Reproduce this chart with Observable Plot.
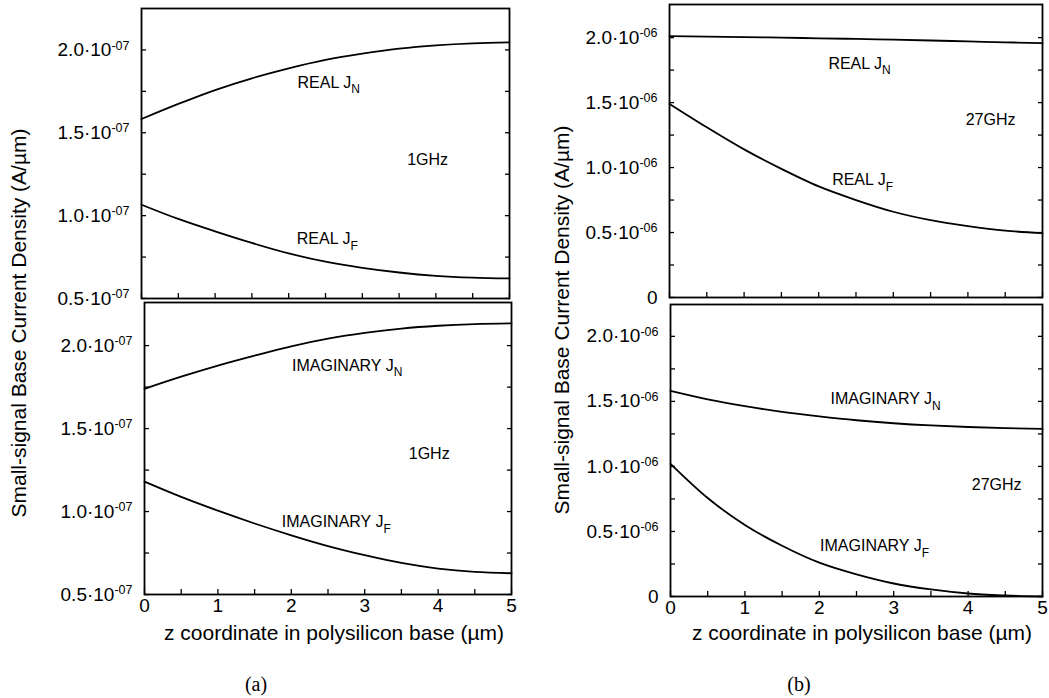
<!DOCTYPE html>
<html>
<head>
<meta charset="utf-8">
<script src="https://cdn.jsdelivr.net/npm/d3@7"></script>
<script src="https://cdn.jsdelivr.net/npm/@observablehq/plot@0.6"></script>
<style>
  body { margin: 0; background: #fff; }
  #fig { position: relative; width: 1049px; height: 698px; overflow: hidden;
         font-family: "Liberation Sans", Arial, Helvetica, sans-serif; color: #000; }
  .panel { position: absolute; }
  .ytitle { position: absolute; font-size: 21px; line-height: 21px; white-space: nowrap;
            transform: translate(-50%, -50%) rotate(-90deg); }
  .xtitle { position: absolute; font-size: 21px; line-height: 21px; white-space: nowrap;
            transform: translateX(-50%); }
  .cap { position: absolute; font-family: "Liberation Serif", "Times New Roman", serif;
         font-size: 20px; line-height: 20px; transform: translateX(-50%); }
</style>
</head>
<body>
<div id="fig"></div>
<script>
// z coordinate in the polysilicon base (µm)
const z = [0, 0.5, 1, 1.5, 2, 2.5, 3, 3.5, 4, 4.5, 5];

// 1 GHz small-signal base current density (A/µm)
const realJN_1GHz = [1.583e-7, 1.674e-7, 1.758e-7, 1.829e-7, 1.889e-7, 1.94e-7, 1.978e-7, 2.008e-7, 2.028e-7, 2.04e-7, 2.045e-7];
const realJF_1GHz = [1.066e-7, 0.98e-7, 0.905e-7, 0.835e-7, 0.772e-7, 0.722e-7, 0.685e-7, 0.657e-7, 0.637e-7, 0.626e-7, 0.621e-7];
const imagJN_1GHz = [1.74e-7, 1.813e-7, 1.88e-7, 1.94e-7, 1.996e-7, 2.042e-7, 2.077e-7, 2.103e-7, 2.12e-7, 2.13e-7, 2.134e-7];
const imagJF_1GHz = [1.18e-7, 1.088e-7, 1.005e-7, 0.928e-7, 0.857e-7, 0.792e-7, 0.737e-7, 0.69e-7, 0.656e-7, 0.636e-7, 0.628e-7];

// 27 GHz small-signal base current density (A/µm)
const realJN_27GHz = [2.012e-6, 2.008e-6, 2.004e-6, 2.0e-6, 1.995e-6, 1.99e-6, 1.984e-6, 1.978e-6, 1.971e-6, 1.964e-6, 1.958e-6];
const realJF_27GHz = [1.49e-6, 1.31e-6, 1.14e-6, 0.99e-6, 0.855e-6, 0.75e-6, 0.66e-6, 0.595e-6, 0.55e-6, 0.515e-6, 0.495e-6];
const imagJN_27GHz = [1.58e-6, 1.515e-6, 1.463e-6, 1.42e-6, 1.385e-6, 1.355e-6, 1.332e-6, 1.315e-6, 1.303e-6, 1.294e-6, 1.288e-6];
const imagJF_27GHz = [1.02e-6, 0.757e-6, 0.55e-6, 0.39e-6, 0.26e-6, 0.17e-6, 0.10e-6, 0.054e-6, 0.023e-6, 0.008e-6, 0.0];

// axis ticks
const xTickLabels = [0, 1, 2, 3, 4, 5];
const xTicksAll = [0, 0.5, 1, 1.5, 2, 2.5, 3, 3.5, 4, 4.5, 5];
const yTicks7 = [0.5e-7, 1.0e-7, 1.5e-7, 2.0e-7];
const yTicks7All = [0.5e-7, 0.75e-7, 1.0e-7, 1.25e-7, 1.5e-7, 1.75e-7, 2.0e-7];
const yTicks6 = [0, 0.5e-6, 1.0e-6, 1.5e-6, 2.0e-6];
const yTicks6All = [0, 0.25e-6, 0.5e-6, 0.75e-6, 1.0e-6, 1.25e-6, 1.5e-6, 1.75e-6, 2.0e-6];

// curve labels ("_" marks a subscript)
const notesRe1 = [
  {x: 2.12, y: 1.771e-7, t: "REAL J_N"},
  {x: 3.61, y: 1.307e-7, t: "1GHz"},
  {x: 2.11, y: 0.827e-7, t: "REAL J_F"}
];
const notesIm1 = [
  {x: 2.01, y: 1.849e-7, t: "IMAGINARY J_N"},
  {x: 3.60, y: 1.317e-7, t: "1GHz"},
  {x: 1.87, y: 0.905e-7, t: "IMAGINARY J_F"}
];
const notesRe27 = [
  {x: 2.13, y: 1.762e-6, t: "REAL J_N"},
  {x: 3.97, y: 1.325e-6, t: "27GHz"},
  {x: 2.18, y: 0.864e-6, t: "REAL J_F"}
];
const notesIm27 = [
  {x: 2.15, y: 1.48e-6, t: "IMAGINARY J_N"},
  {x: 4.05, y: 0.818e-6, t: "27GHz"},
  {x: 2.01, y: 0.346e-6, t: "IMAGINARY J_F"}
];

const toRows = (name, ys) => ys.map((v, i) => ({z: z[i], v, s: name}));

const fmt7 = d => `${(d / 1e-7).toFixed(1)}·10^-07`;
const fmt6 = d => d === 0 ? "0" : `${(d / 1e-6).toFixed(1)}·10^-06`;

const fig = document.getElementById("fig");
const FONT = '"Liberation Sans", Arial, Helvetica, sans-serif';

// turn "a^b" into a superscript and "a_b" into a subscript
function decorate(svg) {
  svg.querySelectorAll("text").forEach(t => {
    const s = t.textContent;
    let m;
    if ((m = s.split("^")).length === 2) {
      t.textContent = m[0];
      const ts = document.createElementNS("http://www.w3.org/2000/svg", "tspan");
      ts.setAttribute("font-size", "12.5");
      ts.setAttribute("dy", "-6.5");
      ts.textContent = m[1];
      t.appendChild(ts);
    } else if ((m = s.split("_")).length === 2) {
      t.textContent = m[0];
      const ts = document.createElementNS("http://www.w3.org/2000/svg", "tspan");
      ts.setAttribute("font-size", "12");
      ts.setAttribute("dy", "5.5");
      ts.textContent = m[1];
      t.appendChild(ts);
    }
  });
}

function panel({left, top, width, height, ml, mr, mt, mb, yDomain, yTicks, yAll, fmt, series, notes, showX}) {
  const data = series.flatMap(([name, ys]) => toRows(name, ys));
  const marks = [
    Plot.axisY(yAll, {anchor: "left", tickSize: -5, tickFormat: () => "", label: null, strokeWidth: 1.3}),
    Plot.axisY(yAll, {anchor: "right", tickSize: -5, tickFormat: () => "", label: null, strokeWidth: 1.3}),
    Plot.axisX(xTicksAll, {anchor: "bottom", tickSize: -5, tickFormat: () => "", label: null, strokeWidth: 1.3}),
    Plot.axisY(yTicks, {anchor: "left", tickSize: 0, tickPadding: 12, tickFormat: fmt, label: null, fontSize: 19}),
    Plot.frame({stroke: "black", strokeWidth: 1.8}),
    Plot.line(data, {x: "z", y: "v", z: "s", stroke: "black", strokeWidth: 1.8, curve: "monotone-x"}),
    Plot.text(notes, {x: "x", y: "y", text: "t", textAnchor: "start", lineAnchor: "bottom", fontSize: 16, fill: "black"})
  ];
  if (showX) {
    marks.push(Plot.axisX(xTickLabels, {anchor: "bottom", tickSize: 0, tickPadding: 4, label: null, fontSize: 19}));
  }
  const svg = Plot.plot({
    width, height,
    marginLeft: ml, marginRight: mr, marginTop: mt, marginBottom: mb,
    style: {background: "transparent", fontFamily: FONT, color: "black", overflow: "visible"},
    x: {domain: [0, 5], label: null},
    y: {domain: yDomain, label: null},
    marks
  });
  decorate(svg);
  const wrap = document.createElement("div");
  wrap.className = "panel";
  wrap.style.left = left + "px";
  wrap.style.top = top + "px";
  wrap.appendChild(svg);
  fig.appendChild(wrap);
}

// (a) 1 GHz
panel({left: 0, top: 0, width: 520, height: 300, ml: 141, mr: 11, mt: 8, mb: 2,
  yDomain: [0.5e-7, 2.25e-7], yTicks: yTicks7, yAll: yTicks7All, fmt: fmt7,
  series: [["re JN", realJN_1GHz], ["re JF", realJF_1GHz]], notes: notesRe1, showX: false});
panel({left: 0, top: 300, width: 520, height: 330, ml: 144, mr: 9, mt: 2, mb: 36,
  yDomain: [0.5e-7, 2.26e-7], yTicks: yTicks7, yAll: yTicks7All, fmt: fmt7,
  series: [["im JN", imagJN_1GHz], ["im JF", imagJF_1GHz]], notes: notesIm1, showX: true});

// (b) 27 GHz
panel({left: 530, top: 0, width: 519, height: 300, ml: 139, mr: 7, mt: 4, mb: 3,
  yDomain: [0, 2.255e-6], yTicks: yTicks6, yAll: yTicks6All, fmt: fmt6,
  series: [["re JN", realJN_27GHz], ["re JF", realJF_27GHz]], notes: notesRe27, showX: false});
panel({left: 530, top: 300, width: 519, height: 330, ml: 140, mr: 7, mt: 4, mb: 34,
  yDomain: [0, 2.245e-6], yTicks: yTicks6, yAll: yTicks6All, fmt: fmt6,
  series: [["im JN", imagJN_27GHz], ["im JF", imagJF_27GHz]], notes: notesIm27, showX: true});

// titles and captions
function addText(cls, text, left, top) {
  const d = document.createElement("div");
  d.className = cls;
  d.textContent = text;
  d.style.left = left + "px";
  d.style.top = top + "px";
  fig.appendChild(d);
}
addText("ytitle", "Small-signal Base Current Density (A/µm)", 18, 323);
addText("ytitle", "Small-signal Base Current Density (A/µm)", 561, 320);
addText("xtitle", "z coordinate in polysilicon base (µm)", 334, 622);
addText("xtitle", "z coordinate in polysilicon base (µm)", 862, 622);
addText("cap", "(a)", 256, 674);
addText("cap", "(b)", 799, 674);
</script>
</body>
</html>
